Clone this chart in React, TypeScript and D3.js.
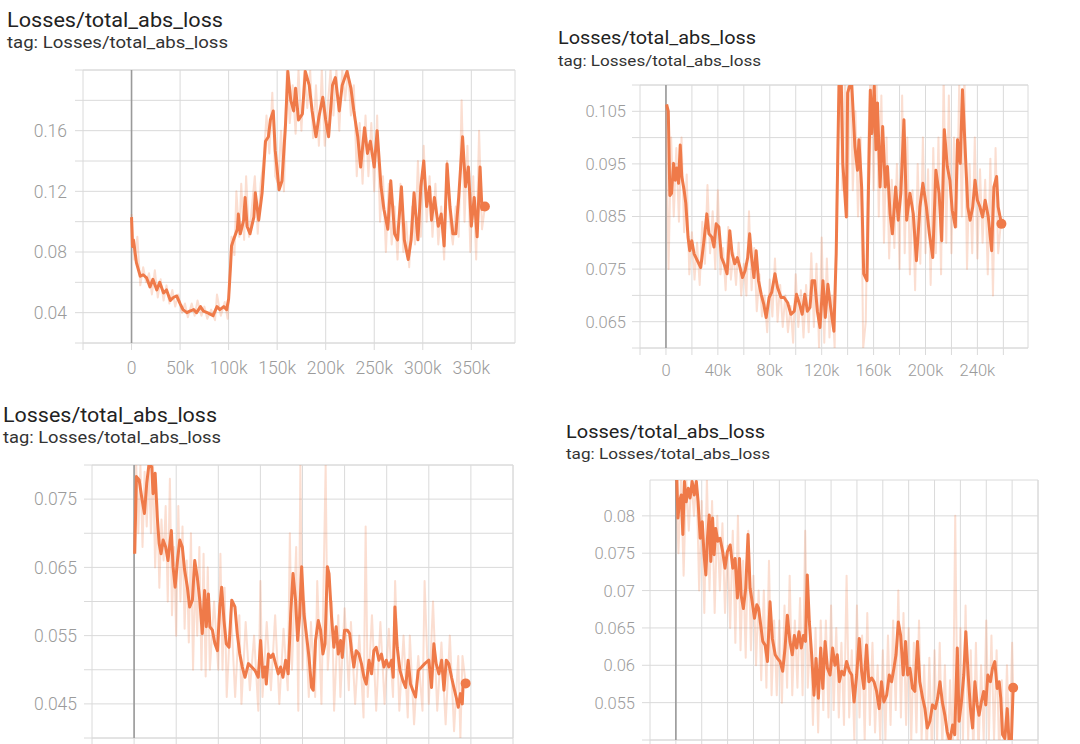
import React from "react";
import * as d3 from "d3";

// ---------- DATA (steps in thousands, value) ----------
const titleText = "Losses/total_abs_loss";
const tagText = "tag: Losses/total_abs_loss";

const p1XTicks = [0, 50, 100, 150, 200, 250, 300, 350];
const p1YTicks = [0.04, 0.08, 0.12, 0.16];
const p1Smooth: [number, number][] = [
  [0,0.103],[1,0.0836],[2,0.088],[5,0.073],[9,0.064],[12,0.065],[15.5,0.063],[19,0.057],[22,0.062],[26,0.055],
  [29,0.06],[33,0.053],[36,0.055],[40,0.048],[43,0.05],[46.5,0.051],[50,0.046],[53,0.042],[57,0.04],[60,0.041],
  [64,0.042],[67,0.04],[71,0.044],[74,0.041],[78,0.04],[81,0.039],[84,0.038],[88,0.044],[91,0.042],[95,0.044],
  [98,0.042],[100,0.049],[102,0.071],[103,0.084],[105,0.088],[109,0.095],[110,0.105],[112,0.092],[115.5,0.101],[117,0.116],
  [119,0.097],[122,0.092],[126,0.103],[127.5,0.119],[131,0.101],[134.5,0.119],[138,0.153],[141,0.156],[143,0.167],[146,0.173],
  [148,0.147],[152,0.121],[155,0.127],[158.6,0.164],[161,0.199],[164,0.18],[167,0.173],[169,0.188],[172,0.167],[176,0.171],
  [179,0.199],[183,0.19],[186,0.173],[190,0.156],[193,0.169],[197,0.182],[200,0.167],[203,0.156],[207,0.19],[210,0.195],
  [214,0.173],[217,0.19],[222,0.199],[226,0.188],[229,0.173],[233,0.156],[236,0.136],[240,0.162],[243,0.145],[246,0.153],
  [250,0.136],[253,0.16],[257,0.123],[260,0.108],[264,0.095],[267,0.127],[271,0.092],[274,0.088],[278,0.123],[281,0.088],
  [285,0.075],[288,0.088],[291,0.119],[295,0.088],[298,0.123],[301,0.14],[304,0.11],[307,0.123],[309,0.101],[312,0.116],
  [316,0.097],[319,0.105],[322,0.084],[325,0.138],[328,0.11],[331,0.092],[334,0.092],[337,0.116],[341,0.156],[344,0.123],
  [347,0.136],[350,0.097],[353,0.116],[356,0.09],[359,0.136],[361,0.108],[364,0.11]
];
const p1Raw: [number, number][] = [
  [0,0.105],[3,0.075],[6,0.09],[9,0.058],[12,0.07],[15,0.06],[18,0.066],[21,0.052],[24,0.068],[27,0.05],
  [30,0.062],[33,0.048],[36,0.058],[39,0.046],[42,0.055],[45,0.044],[48,0.052],[52,0.04],[55,0.046],[58,0.037],
  [62,0.046],[65,0.038],[68,0.048],[72,0.038],[75,0.044],[78,0.036],[82,0.042],[86,0.035],[88,0.052],[92,0.038],
  [96,0.047],[99,0.036],[101,0.06],[103,0.09],[106,0.078],[108,0.12],[111,0.09],[113,0.125],[116,0.088],[118,0.13],
  [121,0.09],[124,0.11],[127,0.13],[130,0.092],[133,0.125],[136,0.14],[139,0.17],[142,0.145],[145,0.185],[148,0.13],
  [151,0.125],[154,0.16],[157,0.12],[160,0.2],[163,0.165],[166,0.19],[169,0.158],[172,0.2],[175,0.16],[178,0.2],
  [181,0.175],[184,0.2],[187,0.155],[190,0.19],[193,0.15],[196,0.2],[199,0.15],[202,0.175],[205,0.2],[208,0.17],
  [211,0.2],[214,0.16],[217,0.2],[220,0.18],[223,0.2],[226,0.17],[229,0.19],[232,0.13],[235,0.165],[238,0.125],
  [241,0.17],[244,0.13],[247,0.165],[250,0.12],[253,0.17],[256,0.1],[259,0.13],[262,0.08],[265,0.125],[268,0.085],
  [271,0.11],[274,0.075],[277,0.125],[280,0.08],[283,0.1],[286,0.07],[289,0.11],[292,0.085],[295,0.14],[298,0.09],
  [301,0.15],[304,0.1],[307,0.13],[310,0.09],[313,0.125],[316,0.085],[319,0.11],[322,0.075],[325,0.14],[328,0.1],
  [331,0.085],[334,0.11],[337,0.09],[340,0.18],[343,0.1],[346,0.15],[349,0.08],[352,0.13],[355,0.075],[358,0.16],
  [361,0.095],[364,0.11]
];

const p2XTicks = [0, 40, 80, 120, 160, 200, 240];
const p2YTicks = [0.065, 0.075, 0.085, 0.095, 0.105];
const p2Smooth: [number, number][] = [
  [0.5,0.1063],[1.8,0.105],[3,0.089],[4.3,0.0894],[5.9,0.0951],[7.1,0.0919],[8.4,0.0942],[9.7,0.0913],[11,0.0986],[12.2,0.0926],
  [14,0.09],[15.3,0.0875],[17,0.0811],[18.3,0.0785],[19.9,0.0804],[21.7,0.0779],[24.2,0.0766],[26.8,0.0753],[29.3,0.0804],[31.5,0.0855],
  [33.1,0.0817],[35.3,0.0811],[37,0.0792],[38.7,0.0836],[40.8,0.083],[42.8,0.0772],[44.8,0.076],[47.1,0.0741],[49.2,0.0823],[51,0.0779],
  [53,0.076],[55,0.0772],[57.1,0.0753],[59,0.0734],[61,0.0747],[63,0.0772],[64.5,0.0817],[66,0.0772],[67.8,0.0734],[69.5,0.0785],
  [71.3,0.0728],[73.4,0.0702],[75.4,0.0683],[77.2,0.0658],[79.5,0.0696],[81.5,0.0706],[84,0.0741],[86,0.0715],[88.7,0.0696],[91,0.0696],
  [93.8,0.0686],[96.3,0.0664],[98.9,0.067],[100.6,0.0702],[103,0.0683],[105,0.0664],[107,0.0702],[109,0.067],[111,0.0677],[112.6,0.0728],
  [114.6,0.0728],[116.7,0.067],[118.7,0.0639],[121,0.0728],[122.8,0.0658],[124.8,0.0721],[126.9,0.0677],[129.4,0.0632],[131.2,0.0779],[133.3,0.1098],
  [135,0.112],[136.3,0.0951],[139,0.0849],[140,0.1085],[143,0.111],[145.6,0.0983],[147.6,0.0938],[148.7,0.0996],[150.8,0.0906],[152.4,0.0741],
  [154.9,0.0728],[156,0.0894],[157.5,0.109],[158.8,0.1008],[160.5,0.1098],[161.8,0.0977],[163,0.1066],[165,0.0906],[167,0.1021],[169,0.0906],
  [170.7,0.0945],[172.7,0.0855],[174.5,0.0817],[177,0.0906],[179,0.0843],[181,0.0894],[183.4,0.1034],[185.5,0.0843],[188,0.0894],[190.6,0.0855],
  [193,0.0766],[195.7,0.0868],[198,0.0913],[200.7,0.0868],[203,0.0817],[205.6,0.0772],[208,0.0938],[210.5,0.0894],[212.5,0.0804],[214.5,0.1015],
  [216.8,0.0945],[218.8,0.0919],[220.6,0.0862],[223,0.083],[224.7,0.0996],[226.8,0.0951],[228.5,0.1091],[230.6,0.0977],[232.6,0.0868],[234.4,0.0843],
  [236.4,0.0868],[238.2,0.0919],[240,0.0881],[242,0.0868],[244,0.0849],[246,0.0881],[248.4,0.0849],[251,0.0785],[252.7,0.0906],[254.8,0.0926],
  [256,0.0868],[258.5,0.0836]
];
const p2Raw: [number, number][] = [
  [0,0.106],[2,0.075],[4,0.1],[6,0.085],[8,0.098],[10,0.084],[12,0.1],[14,0.082],[16,0.093],[18,0.074],
  [20,0.082],[22,0.073],[24,0.08],[26,0.072],[28,0.084],[30,0.076],[32,0.091],[34,0.078],[36,0.086],[38,0.075],
  [40,0.09],[42,0.074],[44,0.079],[46,0.071],[48,0.083],[50,0.073],[52,0.078],[54,0.072],[56,0.08],[58,0.07],
  [60,0.076],[62,0.07],[64,0.086],[66,0.071],[68,0.079],[70,0.067],[72,0.074],[74,0.066],[76,0.07],[78,0.063],
  [80,0.073],[82,0.066],[84,0.077],[86,0.065],[88,0.072],[90,0.064],[92,0.07],[94,0.063],[96,0.068],[98,0.061],
  [100,0.074],[102,0.064],[104,0.071],[106,0.062],[108,0.072],[110,0.063],[112,0.078],[114,0.064],[116,0.076],[118,0.06],
  [120,0.081],[122,0.061],[124,0.077],[126,0.062],[128,0.07],[130,0.06],[132,0.095],[134,0.115],[136,0.09],[138,0.112],
  [140,0.085],[142,0.115],[144,0.09],[146,0.105],[148,0.085],[150,0.1],[152,0.06],[154,0.065],[156,0.1],[158,0.115],
  [160,0.09],[162,0.115],[164,0.085],[166,0.108],[168,0.08],[170,0.1],[172,0.077],[174,0.092],[176,0.079],[178,0.095],
  [180,0.075],[182,0.108],[184,0.078],[186,0.1],[188,0.074],[190,0.09],[192,0.071],[194,0.095],[196,0.076],[198,0.1],
  [200,0.078],[202,0.094],[204,0.072],[206,0.098],[208,0.078],[210,0.1],[212,0.074],[214,0.112],[216,0.08],[218,0.108],
  [220,0.078],[222,0.1],[224,0.083],[226,0.11],[228,0.085],[230,0.112],[232,0.075],[234,0.095],[236,0.078],[238,0.1],
  [240,0.077],[242,0.094],[244,0.08],[246,0.092],[248,0.074],[250,0.096],[252,0.07],[254,0.098],[256,0.078],[258.5,0.085]
];

const p3XTicks: number[] = [];
const p3YTicks = [0.045, 0.055, 0.065, 0.075];
const p3Smooth: [number, number][] = [
  [0.3,0.067],[1.1,0.0783],[2.4,0.0778],[3.6,0.0753],[4.9,0.0729],[6,0.0773],[7.1,0.0802],[8.4,0.0797],[9,0.0758],[10,0.0788],
  [11,0.0724],[11.9,0.0685],[12.8,0.067],[13.8,0.069],[15,0.068],[16.1,0.066],[17,0.0685],[17.7,0.0704],[18.5,0.0651],[19.5,0.0621],
  [20.6,0.066],[21.7,0.069],[22.9,0.068],[24,0.0646],[25.3,0.0621],[26.4,0.0592],[27.7,0.0602],[28.8,0.066],[30,0.0636],[31.2,0.0602],
  [32.4,0.0553],[33.5,0.0616],[34.3,0.0563],[35.3,0.0611],[36,0.0563],[37.2,0.0558],[38.4,0.0538],[39.6,0.0528],[40.7,0.0592],[41.6,0.0621],
  [42.7,0.0572],[43.8,0.0538],[45.1,0.0533],[46.4,0.0602],[47.9,0.0592],[49,0.0553],[50.2,0.0523],[51.4,0.0504],[52.7,0.0489],[54.3,0.0509],
  [55.9,0.0504],[57.4,0.0499],[59,0.0489],[60.1,0.0543],[61.2,0.0489],[62.2,0.0504],[62.8,0.0479],[63.8,0.0523],[64.9,0.0518],[66,0.0523],
  [67.2,0.0509],[68.5,0.0494],[69.6,0.0504],[70.7,0.0489],[72,0.0514],[73.2,0.0494],[74.4,0.0582],[75.5,0.0641],[76.7,0.0602],[77.7,0.0543],
  [78.6,0.0577],[79.6,0.0651],[80.7,0.0582],[81.8,0.0553],[83.1,0.0518],[84.3,0.0474],[85.1,0.047],[86.2,0.0543],[87.5,0.0572],[88.6,0.0558],
  [89.7,0.0523],[90.7,0.0538],[91.8,0.0651],[92.6,0.0641],[93.8,0.0577],[94.9,0.0533],[96,0.0563],[97,0.0523],[98.1,0.0543],[98.9,0.0518],
  [100,0.0558],[101.3,0.0558],[102.4,0.0553],[103.3,0.0528],[104.4,0.0504],[105.5,0.0528],[106.8,0.0523],[108,0.0509],[109.2,0.0489],[110.3,0.0479],
  [111.6,0.0514],[112.8,0.0494],[113.9,0.0528],[115,0.0533],[116.3,0.0514],[117.5,0.0523],[118.7,0.0504],[119.8,0.0514],[121,0.0504],[122.3,0.0514],
  [123.1,0.0489],[123.9,0.0592],[125,0.0533],[126.3,0.0499],[127.7,0.0484],[129,0.0474],[130.2,0.0514],[131.3,0.0479],[132.4,0.047],[133.7,0.046],
  [135,0.0499],[136.6,0.0504],[138.1,0.0509],[140,0.0514],[141.3,0.0474],[142.4,0.0538],[143.5,0.0509],[144.8,0.0494],[146.1,0.0514],[147.2,0.047],
  [148.3,0.0514],[149.5,0.0509],[150.8,0.0489],[151.9,0.0474],[153,0.046],[154,0.0445],[155,0.0465],[155.9,0.045],[156.3,0.0479],[157.5,0.048]
];
const p3Raw: [number, number][] = [
  [0,0.067],[1,0.08],[2,0.07],[3,0.08],[4,0.068],[5,0.079],[6,0.071],[7,0.08],[8,0.07],[9,0.08],
  [10,0.065],[11,0.075],[12,0.062],[13,0.072],[14,0.066],[15,0.074],[16,0.06],[17,0.078],[18,0.058],[19,0.068],
  [20,0.055],[21,0.074],[22,0.06],[23,0.071],[24,0.056],[25,0.066],[26,0.054],[27,0.07],[28,0.05],[29,0.064],
  [30,0.055],[31,0.068],[32,0.05],[33,0.067],[34,0.049],[35,0.065],[36,0.05],[38,0.06],[40,0.05],[41,0.067],
  [42,0.05],[43,0.062],[44,0.046],[46,0.059],[48,0.046],[50,0.058],[51,0.045],[53,0.057],[55,0.047],[57,0.055],
  [59,0.044],[60,0.063],[61,0.046],[63,0.057],[65,0.047],[67,0.058],[69,0.045],[71,0.056],[73,0.047],[74,0.07],
  [75,0.05],[77,0.068],[78,0.044],[79,0.08],[80,0.05],[81,0.06],[83,0.046],[84,0.057],[86,0.046],[87,0.063],
  [89,0.045],[91,0.08],[92,0.05],[94,0.06],[95,0.044],[97,0.058],[98,0.046],[100,0.059],[102,0.047],[103,0.057],
  [105,0.045],[107,0.055],[109,0.043],[110,0.071],[111,0.046],[113,0.058],[115,0.044],[117,0.057],[119,0.045],[121,0.056],
  [123,0.046],[124,0.063],[126,0.044],[128,0.055],[130,0.043],[131,0.055],[133,0.042],[135,0.052],[137,0.044],[138,0.063],
  [140,0.045],[142,0.06],[144,0.044],[146,0.054],[148,0.042],[150,0.055],[152,0.041],[154,0.052],[155,0.04],[156,0.052],
  [157.5,0.048]
];

const p4XTicks: number[] = [];
const p4YTicks = [0.055, 0.06, 0.065, 0.07, 0.075, 0.08];
const p4Smooth: [number, number][] = [
  [0.4,0.0848],[0.8,0.0797],[1.4,0.0819],[2.1,0.0828],[2.7,0.0775],[3.3,0.0846],[4,0.0819],[4.8,0.0837],[5.5,0.0824],[6.3,0.0846],
  [7.1,0.0828],[7.9,0.0846],[8.6,0.0819],[9.4,0.077],[10.2,0.0792],[10.9,0.0748],[11.6,0.0721],[12.2,0.077],[12.9,0.0801],[13.5,0.0739],
  [14.2,0.0797],[14.8,0.0748],[15.4,0.0783],[16.2,0.0766],[17.1,0.077],[18.1,0.0752],[19,0.073],[19.9,0.0752],[21,0.0761],[22,0.073],
  [22.9,0.0743],[23.8,0.069],[24.6,0.0743],[25.2,0.0694],[26.1,0.0676],[27,0.0703],[27.9,0.0775],[28.7,0.0703],[29.5,0.0685],[30.4,0.0663],
  [31.3,0.0681],[32,0.0676],[32.8,0.0654],[33.6,0.0632],[34.5,0.0627],[35.4,0.0605],[36.4,0.0685],[37.3,0.0636],[38.4,0.0614],[39.3,0.0609],
  [40.3,0.0605],[41.3,0.0592],[42.2,0.0623],[43.1,0.0667],[44.1,0.0632],[45,0.0614],[45.8,0.064],[46.7,0.0623],[47.6,0.0645],[48.5,0.0623],
  [49.3,0.064],[50.1,0.0632],[50.8,0.0721],[51.6,0.0658],[52.5,0.0614],[53.4,0.056],[54.2,0.0609],[55.1,0.0556],[56,0.0623],[56.8,0.0569],
  [57.7,0.0632],[58.6,0.0596],[59.6,0.0587],[60.6,0.0623],[61.5,0.06],[62.4,0.0614],[63.2,0.0578],[64.1,0.0592],[65,0.0587],[66,0.0605],
  [67.1,0.0592],[68,0.0587],[68.9,0.0551],[69.9,0.0587],[70.9,0.0636],[71.8,0.0592],[72.7,0.0569],[73.7,0.0627],[74.6,0.0578],[75.7,0.0583],
  [76.6,0.0578],[77.6,0.0565],[78.6,0.0542],[79.5,0.0578],[80.4,0.0551],[81.5,0.056],[82.5,0.0587],[83.4,0.0578],[84.3,0.0596],[85.1,0.0614],
  [86,0.0658],[86.9,0.064],[87.9,0.0587],[88.8,0.0632],[89.6,0.0587],[90.5,0.0596],[91.5,0.0569],[92.4,0.0565],[93.4,0.0632],[94.3,0.0578],
  [95.4,0.0556],[96.3,0.0542],[97.2,0.0516],[98.2,0.0525],[99.2,0.0547],[100.3,0.0542],[101.2,0.0556],[102.1,0.0578],[103,0.0551],[104,0.0533],
  [104.9,0.0511],[105.9,0.0498],[107,0.052],[107.8,0.0507],[108.8,0.0623],[109.5,0.0525],[110.4,0.0551],[111.3,0.0587],[112.1,0.0645],[113,0.0587],
  [113.9,0.0542],[114.7,0.0516],[115.6,0.0578],[116.5,0.0547],[117.2,0.0533],[118.1,0.0551],[119,0.0565],[119.8,0.0547],[120.6,0.0587],[121.6,0.0578],
  [122.4,0.0596],[123.3,0.0605],[124.2,0.0569],[125,0.0578],[125.6,0.0556],[126.3,0.0507],[127.2,0.0502],[128.1,0.0542],[128.8,0.0498],[129.7,0.0498],
  [130.4,0.057]
];
const p4Raw: [number, number][] = [
  [0,0.085],[1,0.075],[2,0.085],[3,0.072],[4,0.085],[5,0.078],[6,0.085],[7,0.08],[8,0.085],[9,0.07],
  [10,0.082],[11,0.067],[12,0.085],[13,0.07],[14,0.082],[15,0.067],[16,0.08],[17,0.07],[18,0.079],[19,0.067],
  [20,0.076],[21,0.065],[22,0.078],[23,0.063],[24,0.08],[25,0.062],[26,0.074],[27,0.061],[28,0.078],[29,0.062],
  [30,0.072],[31,0.06],[32,0.07],[33,0.058],[34,0.07],[35,0.057],[36,0.074],[37,0.056],[38,0.066],[39,0.056],
  [40,0.066],[41,0.055],[42,0.068],[43,0.057],[44,0.072],[45,0.056],[46,0.066],[47,0.057],[48,0.069],[49,0.056],
  [50,0.078],[51,0.057],[52,0.065],[53,0.052],[54,0.065],[55,0.051],[56,0.066],[57,0.054],[58,0.066],[59,0.053],
  [60,0.068],[61,0.054],[62,0.065],[63,0.053],[64,0.063],[65,0.052],[66,0.072],[67,0.053],[68,0.062],[69,0.05],
  [70,0.068],[71,0.053],[72,0.064],[73,0.05],[74,0.067],[75,0.052],[76,0.063],[77,0.051],[78,0.06],[79,0.05],
  [80,0.062],[81,0.05],[82,0.064],[83,0.052],[84,0.066],[85,0.054],[86,0.07],[87,0.053],[88,0.067],[89,0.052],
  [90,0.065],[91,0.05],[92,0.063],[93,0.051],[94,0.066],[95,0.05],[96,0.06],[97,0.048],[98,0.061],[99,0.048],
  [100,0.062],[101,0.05],[102,0.063],[103,0.049],[104,0.06],[105,0.046],[106,0.058],[107,0.047],[108,0.08],[109,0.048],
  [110,0.065],[111,0.05],[112,0.068],[113,0.05],[114,0.062],[115,0.048],[116,0.063],[117,0.048],[118,0.06],[119,0.05],
  [120,0.066],[121,0.05],[122,0.064],[123,0.05],[124,0.062],[125,0.048],[126,0.058],[127,0.047],[128,0.06],[129,0.048],
  [130,0.063],[130.4,0.057]
];

// ---------- LAYOUT ----------
const ORANGE = "#ef7a49";
const GRID = "#dadada";
const FONT = "Roboto, 'Helvetica Neue', Arial, sans-serif";

type PanelCfg = {
  id: string;
  smooth: [number, number][];
  raw: [number, number][];
  xTicks: number[];
  yTicks: number[];
  xDomain: [number, number];
  yDomain: [number, number];
  xStep: number;
  yStep: number;
  left: number; right: number; top: number; bottom: number;
  titleX: number; titleY: number; titleSize: number; titleW: number;
  tagY: number; tagSize: number; tagW: number;
  tickSize: number; yLabelX: number; xLabelY: number;
};

const panels: PanelCfg[] = [
  {
    id: "p1", smooth: p1Smooth, raw: p1Raw, xTicks: p1XTicks, yTicks: p1YTicks,
    xDomain: [-50, 395], yDomain: [0.02, 0.2], xStep: 50, yStep: 0.02,
    left: 83, right: 515, top: 70, bottom: 343,
    titleX: 7, titleY: 26.5, titleSize: 19.5, titleW: 216, tagY: 48, tagSize: 16, tagW: 221,
    tickSize: 17.5, yLabelX: 67, xLabelY: 374,
  },
  {
    id: "p2", smooth: p2Smooth, raw: p2Raw, xTicks: p2XTicks, yTicks: p2YTicks,
    xDomain: [-20, 279], yDomain: [0.06, 0.11], xStep: 20, yStep: 0.005,
    left: 640, right: 1028, top: 85, bottom: 348,
    titleX: 558, titleY: 44, titleSize: 18, titleW: 198, tagY: 65.5, tagSize: 15, tagW: 203,
    tickSize: 16.5, yLabelX: 626, xLabelY: 376,
  },
  {
    id: "p3", smooth: p3Smooth, raw: p3Raw, xTicks: p3XTicks, yTicks: p3YTicks,
    xDomain: [-20, 180], yDomain: [0.04, 0.08], xStep: 20, yStep: 0.005,
    left: 92, right: 513, top: 465, bottom: 738,
    titleX: 3, titleY: 421.5, titleSize: 19.5, titleW: 214, tagY: 443, tagSize: 16, tagW: 218,
    tickSize: 17.5, yLabelX: 77, xLabelY: 770,
  },
  {
    id: "p4", smooth: p4Smooth, raw: p4Raw, xTicks: p4XTicks, yTicks: p4YTicks,
    xDomain: [-10, 140], yDomain: [0.05, 0.0848], xStep: 10, yStep: 0.005,
    left: 650, right: 1038, top: 480, bottom: 740,
    titleX: 566, titleY: 437.5, titleSize: 18, titleW: 199, tagY: 459, tagSize: 15, tagW: 204,
    tickSize: 16.5, yLabelX: 635, xLabelY: 772,
  },
];

const fmtY = (v: number) => String(+v.toFixed(4));
const fmtX = (v: number) => (v === 0 ? "0" : `${v}k`);

function Panel({ c }: { c: PanelCfg }) {
  const x = d3.scaleLinear().domain(c.xDomain).range([c.left, c.right]);
  const y = d3.scaleLinear().domain(c.yDomain).range([c.bottom, c.top]);
  const nx = Math.floor((c.xDomain[1] - c.xDomain[0]) / c.xStep + 1e-6);
  const xGrid = d3.range(0, nx + 1).map((i) => c.xDomain[0] + i * c.xStep);
  const ny = Math.floor((c.yDomain[1] - c.yDomain[0]) / c.yStep + 1e-6);
  const yGrid = d3.range(0, ny + 1).map((i) => +(c.yDomain[0] + i * c.yStep).toFixed(5));
  const line = d3
    .line<[number, number]>()
    .x((d) => x(d[0]))
    .y((d) => y(d[1]));
  const last = c.smooth[c.smooth.length - 1];
  const clipId = `clip-${c.id}`;
  return (
    <g>
      <text x={c.titleX} y={c.titleY} fontSize={c.titleSize} fill="#222" fontFamily={FONT}
        textLength={c.titleW} lengthAdjust="spacingAndGlyphs">{titleText}</text>
      <text x={c.titleX} y={c.tagY} fontSize={c.tagSize} fill="#333" fontFamily={FONT}
        textLength={c.tagW} lengthAdjust="spacingAndGlyphs">{tagText}</text>
      <defs>
        <clipPath id={clipId}>
          <rect x={c.left} y={c.top} width={c.right - c.left} height={c.bottom - c.top} />
        </clipPath>
      </defs>
      {yGrid.map((v) => (
        <line key={`h${v}`} x1={c.left - 8} x2={c.right} y1={y(v)} y2={y(v)} stroke={GRID} strokeWidth={1} />
      ))}
      <line x1={c.left} x2={c.right} y1={c.top} y2={c.top} stroke={GRID} strokeWidth={1} />
      {xGrid.map((v) => (
        <line key={`v${v}`} x1={x(v)} x2={x(v)} y1={c.top} y2={c.bottom + 7} stroke={GRID} strokeWidth={1} />
      ))}
      <line x1={c.right} x2={c.right} y1={c.top} y2={c.bottom} stroke={GRID} strokeWidth={1} />
      <line x1={c.left} x2={c.right} y1={c.bottom} y2={c.bottom} stroke={GRID} strokeWidth={1} />
      <line x1={x(0)} x2={x(0)} y1={c.top} y2={c.bottom} stroke="#9a9a9a" strokeWidth={1.6} />
      {c.yTicks.map((v) => (
        <text key={`yl${v}`} x={c.yLabelX} y={y(v)} dy="0.36em" textAnchor="end" fontSize={c.tickSize}
          fill="#9b9b9b" fontFamily={FONT} fontWeight={300}>{fmtY(v)}</text>
      ))}
      {c.xTicks.map((v) => (
        <text key={`xl${v}`} x={x(v)} y={c.xLabelY} textAnchor="middle" fontSize={c.tickSize}
          fill="#9b9b9b" fontFamily={FONT} fontWeight={300}>{fmtX(v)}</text>
      ))}
      <g clipPath={`url(#${clipId})`}>
        <path d={line(c.raw) || ""} fill="none" stroke={ORANGE} strokeOpacity={0.25} strokeWidth={2} strokeLinejoin="round" />
        <path d={line(c.smooth) || ""} fill="none" stroke={ORANGE} strokeWidth={3} strokeLinejoin="round" />
      </g>
      <circle cx={x(last[0])} cy={y(last[1])} r={5} fill={ORANGE} />
    </g>
  );
}

export default function App() {
  return (
    <svg width={1080} height={744} style={{ position: "absolute", left: 0, top: 0, background: "#fff" }}>
      <rect x={0} y={0} width={1080} height={744} fill="#fff" />
      {panels.map((c) => (
        <Panel key={c.id} c={c} />
      ))}
    </svg>
  );
}
